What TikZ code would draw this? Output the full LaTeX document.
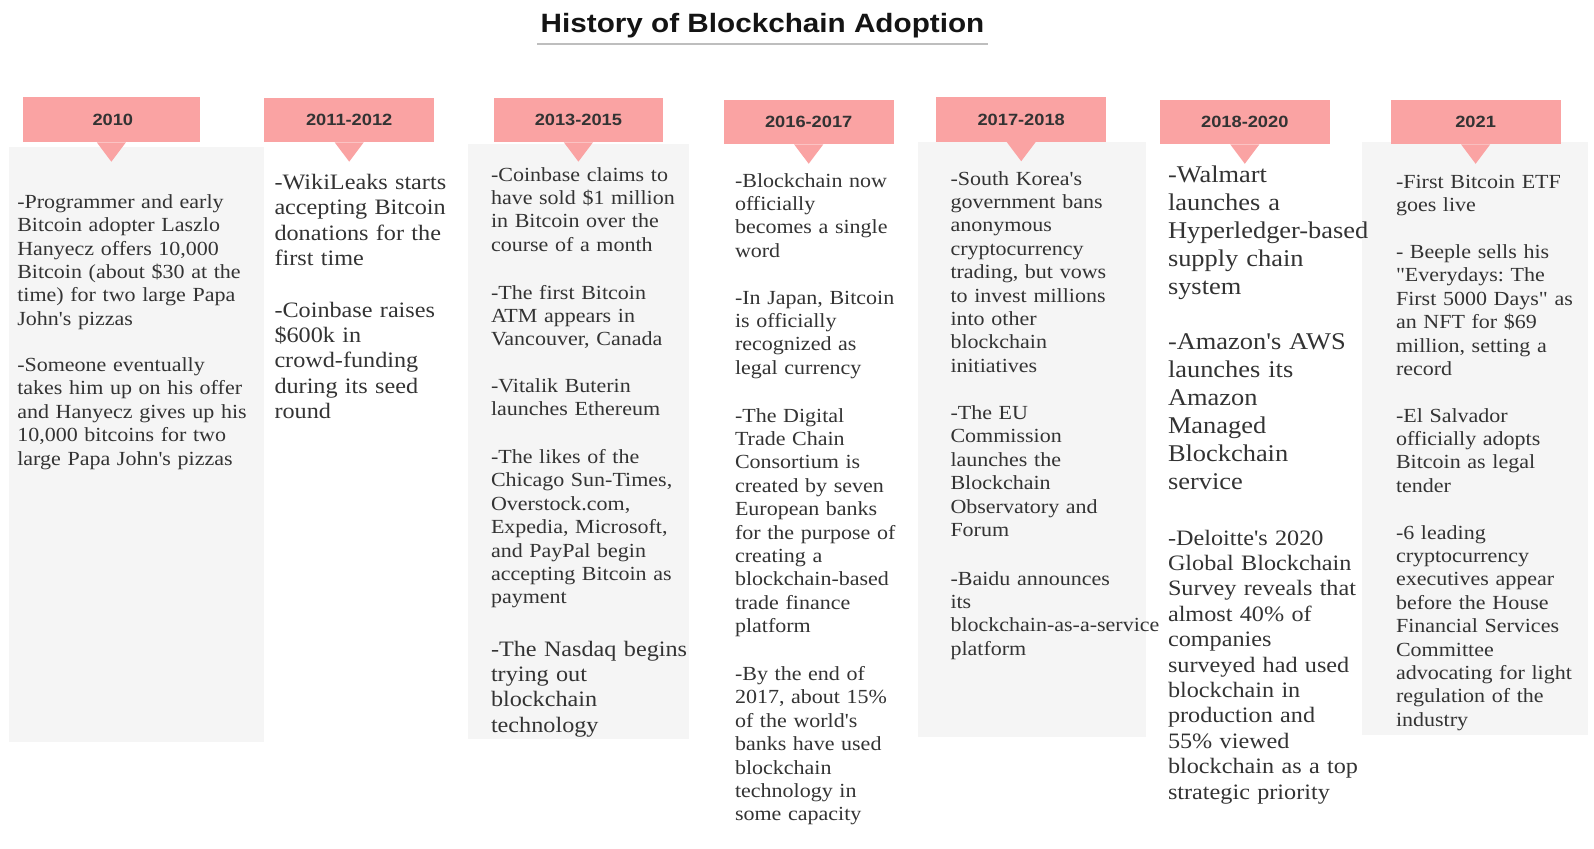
\documentclass[tikz,border=0pt]{standalone}
\usepackage{fontspec}
\usetikzlibrary{calc}
\newfontfamily\bodyserif[FakeStretch=1.1]{Liberation Serif}
\newfontfamily\headsans[FakeStretch=1.12]{Liberation Sans}
\definecolor{tabpink}{RGB}{250,163,163}
\definecolor{panelgray}{RGB}{245,245,245}
\definecolor{inkgray}{RGB}{51,51,51}
\definecolor{titleink}{RGB}{20,20,20}
\definecolor{ruleline}{RGB}{190,190,190}
\frenchspacing
\tikzset{
  tabbox/.style={rectangle, fill=tabpink, inner sep=0pt, outer sep=0pt,
    minimum width=84.9pt, minimum height=22.35pt, text=inkgray,
    font=\headsans\bfseries\fontsize{8.15pt}{9pt}\selectfont},
  txt/.style={anchor=base west, inner sep=0pt, outer sep=0pt, text width=160pt,
    align=left, text=inkgray, font=\bodyserif\frenchspacing\fontsize{10pt}{11.7pt}\selectfont},
  txtL/.style={txt, font=\bodyserif\frenchspacing\fontsize{11pt}{12.7pt}\selectfont},
  txtXL/.style={txt, font=\bodyserif\frenchspacing\fontsize{12pt}{14pt}\selectfont},
  panel/.style={fill=panelgray},
}
\begin{document}
\begin{tikzpicture}[x=0.5pt, y=-0.5pt]
\useasboundingbox (0,0) rectangle (1594,848);
\fill[white] (0,0) rectangle (1594,848);

% title
\node[anchor=base, inner sep=0pt, text=titleink,
  font=\headsans\bfseries\fontsize{13.25pt}{15pt}\selectfont] (title) at (762.5,32.3) {History of Blockchain Adoption};
\coordinate (ulL) at (537,44.3);
\coordinate (ulR) at (988,44.3);
\draw[ruleline, line width=1pt] (ulL) -- (ulR);

% gray panels
\fill[panel] (9.1,147.4) rectangle (264.3,742.1);
\fill[panel] (467.6,144.4) rectangle (689.3,739.1);
\fill[panel] (918,142.3) rectangle (1145.7,737);
\fill[panel] (1362.3,142.3) rectangle (1588,735);

% tabs
\node[tabbox, minimum width=88.65pt, minimum height=22.5pt] (t1) at (111.35,119.8) {\hspace*{1.5pt}2010};
\node[tabbox] (t2) at (349.2,119.9) {2011-2012};
\node[tabbox] (t3) at (578.4,119.9) {2013-2015};
\node[tabbox] (t4) at (808.7,122) {2016-2017};
\node[tabbox] (t5) at (1021.2,119.5) {2017-2018};
\node[tabbox] (t6) at (1244.8,122) {2018-2020};
\node[tabbox] (t7) at (1475.6,122) {2021};
\foreach \t in {t1,t2,t3,t4,t5,t6,t7}{
  \fill[tabpink] ($(\t.south)+(-14.6,0)$) -- ($(\t.south)+(14.6,0)$) -- ($(\t.south)+(0,19.4)$) -- cycle;
}

% column 1
\node[txt] (c1a) at (17.3,208.3) {-Programmer and early\\Bitcoin adopter Laszlo\\Hanyecz offers 10,000\\Bitcoin (about \$30 at the\\time) for two large Papa\\John's pizzas};
\node[txt] (c1b) at (17.3,371.5) {-Someone eventually\\takes him up on his offer\\and Hanyecz gives up his\\10,000 bitcoins for two\\large Papa John's pizzas};

% column 2
\node[txtL] (c2a) at (274.5,189.5) {-WikiLeaks starts\\accepting Bitcoin\\donations for the\\first time};
\node[txtL] (c2b) at (274.5,317) {-Coinbase raises\\\$600k in\\crowd-funding\\during its seed\\round};

% column 3
\node[txt] (c3a) at (491,181) {-Coinbase claims to\\have sold \$1 million\\in Bitcoin over the\\course of a month};
\node[txt] (c3b) at (491,299) {-The first Bitcoin\\ATM appears in\\Vancouver, Canada};
\node[txt] (c3c) at (491,392.5) {-Vitalik Buterin\\launches Ethereum};
\node[txt] (c3d) at (491,463.5) {-The likes of the\\Chicago Sun-Times,\\Overstock.com,\\Expedia, Microsoft,\\and PayPal begin\\accepting Bitcoin as\\payment};
\node[txtL] (c3e) at (491,656) {-The Nasdaq begins\\trying out\\blockchain\\technology};

% column 4
\node[txt] (c4a) at (735,187) {-Blockchain now\\officially\\becomes a single\\word};
\node[txt] (c4b) at (735,304) {-In Japan, Bitcoin\\is officially\\recognized as\\legal currency};
\node[txt] (c4c) at (735,422) {-The Digital\\Trade Chain\\Consortium is\\created by seven\\European banks\\for the purpose of\\creating a\\blockchain-based\\trade finance\\platform};
\node[txt] (c4d) at (735,680.5) {-By the end of\\2017, about 15\%\\of the world's\\banks have used\\blockchain\\technology in\\some capacity};

% column 5
\node[txt] (c5a) at (950.5,185) {-South Korea's\\government bans\\anonymous\\cryptocurrency\\trading, but vows\\to invest millions\\into other\\blockchain\\initiatives};
\node[txt] (c5b) at (950.5,419.5) {-The EU\\Commission\\launches the\\Blockchain\\Observatory and\\Forum};
\node[txt] (c5c) at (950.5,585) {-Baidu announces\\its\\blockchain-as-a-service\\platform};

% column 6
\node[txtXL] (c6a) at (1168,182) {-Walmart\\launches a\\Hyperledger-based\\supply chain\\system};
\node[txtXL] (c6b) at (1168,349.5) {-Amazon's AWS\\launches its\\Amazon\\Managed\\Blockchain\\service};
\node[txtL] (c6c) at (1168,545) {-Deloitte's 2020\\Global Blockchain\\Survey reveals that\\almost 40\% of\\companies\\surveyed had used\\blockchain in\\production and\\55\% viewed\\blockchain as a top\\strategic priority};

% column 7
\node[txt] (c7a) at (1396,188) {-First Bitcoin ETF\\goes live};
\node[txt] (c7b) at (1396,258.5) {- Beeple sells his\\"Everydays: The\\First 5000 Days" as\\an NFT for \$69\\million, setting a\\record};
\node[txt] (c7c) at (1396,422) {-El Salvador\\officially adopts\\Bitcoin as legal\\tender};
\node[txt] (c7d) at (1396,539) {-6 leading\\cryptocurrency\\executives appear\\before the House\\Financial Services\\Committee\\advocating for light\\regulation of the\\industry};
\end{tikzpicture}
\end{document}
